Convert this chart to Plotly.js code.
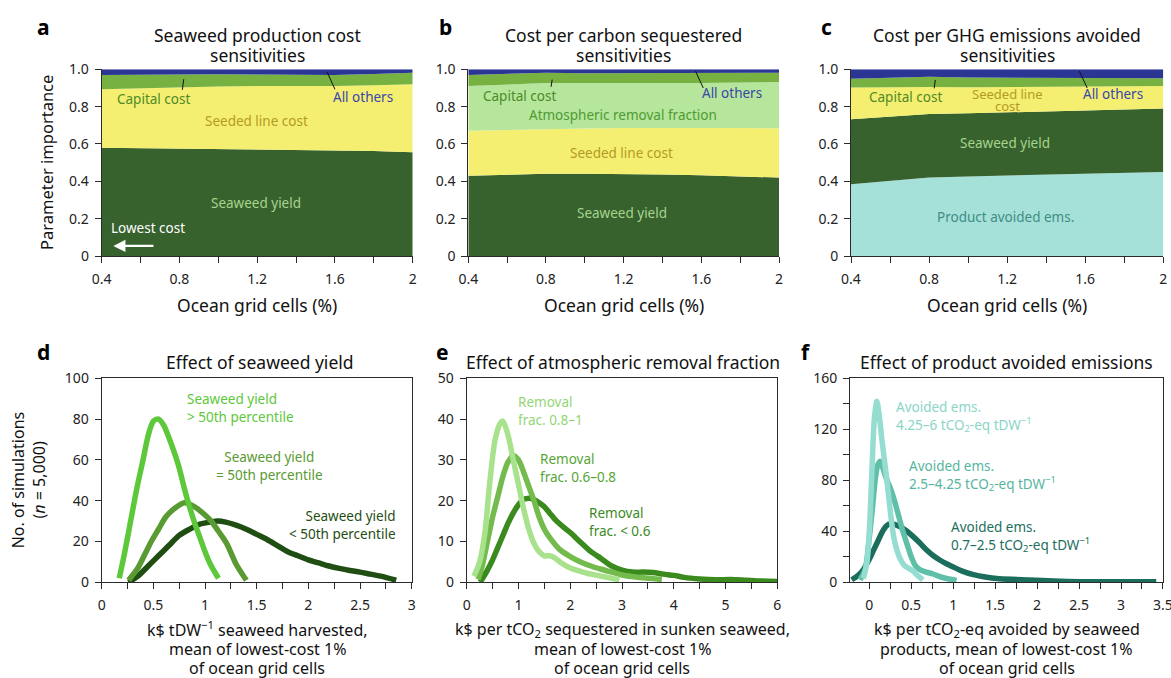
<!DOCTYPE html>
<html><head><meta charset="utf-8">
<script src="https://cdn.plot.ly/plotly-3.0.1.min.js"></script>
<style>body{margin:0;padding:0;background:#fff}#chart{width:1171px;height:678px}</style>
</head><body><div id="chart"></div>
<script>
// ---------- DATA ----------
const gridCells = [0.4, 0.6, 0.8, 1.0, 1.2, 1.4, 1.6, 1.8, 2.0];
// Panel a: seaweed production cost sensitivities
const aYield   = [0.580, 0.578, 0.576, 0.573, 0.571, 0.569, 0.567, 0.563, 0.556];
const aSeeded  = [0.313, 0.321, 0.329, 0.335, 0.339, 0.341, 0.343, 0.352, 0.364];
const aCapital = [0.076, 0.073, 0.070, 0.066, 0.062, 0.060, 0.060, 0.060, 0.062];
const aOthers  = [0.031, 0.028, 0.025, 0.026, 0.028, 0.030, 0.030, 0.025, 0.018];
// Panel b: cost per carbon sequestered sensitivities
const bYield   = [0.430, 0.436, 0.440, 0.441, 0.440, 0.437, 0.432, 0.426, 0.420];
const bSeeded  = [0.241, 0.240, 0.240, 0.242, 0.245, 0.249, 0.253, 0.259, 0.264];
const bAtmos   = [0.239, 0.244, 0.247, 0.244, 0.240, 0.240, 0.242, 0.245, 0.248];
const bCapital = [0.060, 0.058, 0.055, 0.052, 0.055, 0.054, 0.053, 0.052, 0.050];
const bOthers  = [0.030, 0.022, 0.018, 0.021, 0.020, 0.020, 0.020, 0.018, 0.018];
// Panel c: cost per GHG emissions avoided sensitivities
const cProduct = [0.384, 0.402, 0.420, 0.426, 0.430, 0.435, 0.440, 0.445, 0.450];
const cYield   = [0.348, 0.344, 0.340, 0.338, 0.340, 0.340, 0.340, 0.342, 0.340];
const cSeeded  = [0.171, 0.159, 0.145, 0.140, 0.135, 0.130, 0.126, 0.122, 0.120];
const cCapital = [0.047, 0.052, 0.055, 0.052, 0.050, 0.047, 0.046, 0.043, 0.042];
const cOthers  = [0.050, 0.043, 0.040, 0.044, 0.045, 0.048, 0.048, 0.048, 0.048];

// Panel d: effect of seaweed yield
const dHighX = [0.17,0.22,0.28,0.34,0.40,0.45,0.50,0.55,0.60,0.65,0.70,0.75,0.80,0.85,0.90,0.95,1.00,1.05,1.13];
const dHighY = [2,14,30,46,60,72,79,80,77,71,64,56,46,37,29,22,15,9,2];
const dMidX  = [0.26,0.35,0.42,0.48,0.55,0.62,0.70,0.80,0.90,1.00,1.06,1.13,1.21,1.30,1.40];
const dMidY  = [1,7,14,20,26,32,36,39,37,33,30,25,19,9,1];
const dLowX  = [0.26,0.35,0.45,0.55,0.65,0.75,0.85,0.95,1.05,1.12,1.2,1.3,1.4,1.5,1.6,1.7,1.8,1.9,2.0,2.1,2.2,2.3,2.4,2.5,2.6,2.7,2.85];
const dLowY  = [0,3,8,13,18,23,26,28.5,29.5,30,29.5,28,26,23.5,21,18,15,13,11,9.5,8,6.8,5.8,5,4,3,1];

// Panel e: effect of atmospheric removal fraction
const eHighX = [0.14,0.25,0.35,0.45,0.55,0.65,0.70,0.80,0.90,1.00,1.10,1.20,1.30,1.40,1.50,1.60,1.70,1.80,2.00,2.20,2.40,2.60,2.80,2.95];
const eHighY = [1.5,5,12,25,35,39,39.5,36,30,24,18,13,9.5,7.5,6.5,6.5,6,5,3.5,2.7,2,1.5,1,0.6];
const eMidX  = [0.22,0.3,0.4,0.5,0.6,0.7,0.8,0.9,1.0,1.1,1.2,1.3,1.4,1.5,1.6,1.8,2.0,2.2,2.4,2.6,2.8,3.0,3.2,3.4,3.6,3.77];
const eMidY  = [0.7,4,10,16,21,26,29.5,31,30,27,23.5,20,16,13,11,8,6.3,5,4,3.2,2.5,1.8,1.4,1.1,0.9,0.7];
const eLowX  = [0.26,0.4,0.5,0.6,0.7,0.8,0.9,1.0,1.1,1.2,1.3,1.4,1.5,1.6,1.7,1.8,1.9,2.0,2.1,2.2,2.4,2.6,2.8,3.0,3.2,3.4,3.6,3.8,4.0,4.2,4.5,4.8,5.1,5.4,5.7,6.0];
const eLowY  = [0,3,5.5,8.5,11.5,14.5,17,19,20.3,20.6,20.3,19.5,18.5,17,15.5,14.3,13.2,12.2,11,9.8,7.5,5.8,4,3,2.5,2.5,2.4,2,1.7,1.2,0.8,0.6,0.7,0.5,0.3,0.2];

// Panel f: effect of product avoided emissions
const fHighX = [-0.07,-0.03,0.0,0.03,0.06,0.09,0.12,0.15,0.18,0.21,0.25,0.29,0.33,0.37,0.42,0.47,0.52,0.58,0.64];
const fHighY = [3,15,40,85,128,142,130,112,96,80,56,36,25,18,13,11,9,5,2];
const fMidX  = [-0.11,-0.05,0.0,0.04,0.07,0.1,0.13,0.16,0.2,0.25,0.3,0.35,0.4,0.45,0.5,0.55,0.6,0.68,0.76,0.84,0.92,1.04];
const fMidY  = [2,10,35,60,80,92,95,90,82,74,64,52,40,30,20,13,10,8,6.5,4.4,3,1.5];
const fLowX  = [-0.21,-0.14,-0.07,0.0,0.05,0.1,0.15,0.2,0.25,0.3,0.37,0.45,0.52,0.6,0.68,0.76,0.84,0.92,1.0,1.1,1.24,1.4,1.52,1.7,1.91,2.2,2.51,2.8,3.1,3.42];
const fLowY  = [2,5,10,18,25,32,39,44,46,45.5,43.5,40,36,31,25.5,21,17.5,14.5,12,9,6,4,3,2.3,1.8,1,0.5,0.5,0.5,0.5];

// ---------- STYLE ----------
const W = 1171, H = 678;
const FONT = '"Noto Sans", "DejaVu Sans", sans-serif';
const C = {
  yield:'#37622e', seeded:'#f4ef70', capital:'#77b142', others:'#2b3594',
  atmos:'#b5e69b', product:'#a6e1d9'
};
const px = x => x / W;
const py = y => 1 - y / H;

function area(x, y, color, xa, ya){
  return {x:x, y:y, type:'scatter', mode:'lines', stackgroup:'s'+xa, fill:'tonexty',
    fillcolor:color, line:{width:0, color:color}, xaxis:xa, yaxis:ya, hoverinfo:'skip', showlegend:false};
}
function curve(x, y, color, xa, ya){
  return {x:x, y:y, type:'scatter', mode:'lines', line:{color:color, width:5.5, shape:'spline', smoothing:0.8},
    xaxis:xa, yaxis:ya, hoverinfo:'skip', showlegend:false};
}

const traces = [
  area(gridCells, aYield, C.yield, 'x', 'y'),
  area(gridCells, aSeeded, C.seeded, 'x', 'y'),
  area(gridCells, aCapital, C.capital, 'x', 'y'),
  area(gridCells, aOthers, C.others, 'x', 'y'),
  area(gridCells, bYield, C.yield, 'x2', 'y2'),
  area(gridCells, bSeeded, C.seeded, 'x2', 'y2'),
  area(gridCells, bAtmos, C.atmos, 'x2', 'y2'),
  area(gridCells, bCapital, C.capital, 'x2', 'y2'),
  area(gridCells, bOthers, C.others, 'x2', 'y2'),
  area(gridCells, cProduct, C.product, 'x3', 'y3'),
  area(gridCells, cYield, C.yield, 'x3', 'y3'),
  area(gridCells, cSeeded, C.seeded, 'x3', 'y3'),
  area(gridCells, cCapital, C.capital, 'x3', 'y3'),
  area(gridCells, cOthers, C.others, 'x3', 'y3'),
  curve(dLowX, dLowY, '#1f4d12', 'x4', 'y4'),
  curve(dMidX, dMidY, '#5a9a32', 'x4', 'y4'),
  curve(dHighX, dHighY, '#5cc83a', 'x4', 'y4'),
  curve(eLowX, eLowY, '#3a8a1e', 'x5', 'y5'),
  curve(eMidX, eMidY, '#72bb4c', 'x5', 'y5'),
  curve(eHighX, eHighY, '#a8e28c', 'x5', 'y5'),
  curve(fLowX, fLowY, '#1b6e5c', 'x6', 'y6'),
  curve(fMidX, fMidY, '#5fbfa8', 'x6', 'y6'),
  curve(fHighX, fHighY, '#94ddd0', 'x6', 'y6')
];

const AX = '#2a2a2a';
const tickFont = {family:FONT, size:14, color:'#222'};
function xTop(dom, anchor){
  return {domain:dom, anchor:anchor, range:[0.4,2], tickvals:[0.4,0.6,0.8,1.0,1.2,1.4,1.6,1.8,2.0],
    ticktext:['0.4','','0.8','','1.2','','1.6','','2'], ticks:'outside', ticklen:6, tickcolor:AX,
    showline:true, linecolor:AX, linewidth:1, showgrid:false, zeroline:false, tickfont:tickFont, ticklabelstandoff:4, fixedrange:true};
}
function yTop(dom, anchor){
  return {domain:dom, anchor:anchor, range:[0,1], tickvals:[0,0.2,0.4,0.6,0.8,1.0],
    ticktext:['0','0.2','0.4','0.6','0.8','1.0'], ticks:'outside', ticklen:6, tickcolor:AX,
    showline:true, linecolor:AX, linewidth:1, showgrid:false, zeroline:false, tickfont:tickFont, ticklabelstandoff:3, fixedrange:true};
}
function xBot(dom, anchor, range, dtick, minor){
  return {domain:dom, anchor:anchor, range:range, dtick:dtick, tick0:0, ticks:'outside', ticklen:6, tickcolor:AX,
    minor:{dtick:minor, tick0:0, ticks:'outside', ticklen:6, tickcolor:AX, showgrid:false},
    showline:true, mirror:true, linecolor:AX, linewidth:1, showgrid:false, zeroline:false, tickfont:tickFont,
    ticklabelstandoff:4, ticklabeloverflow:'allow', fixedrange:true};
}
function yBot(dom, anchor, range, dtick, minor){
  return {domain:dom, anchor:anchor, range:range, dtick:dtick, tick0:0, ticks:'outside', ticklen:6, tickcolor:AX,
    minor:{dtick:minor, tick0:0, ticks:'outside', ticklen:6, tickcolor:AX, showgrid:false},
    showline:true, mirror:true, linecolor:AX, linewidth:1, showgrid:false, zeroline:false, tickfont:tickFont, ticklabelstandoff:3, fixedrange:true};
}

const topY = [py(256), py(69.3)];
const botY = [py(582.3), py(378.3)];
const domA = [px(101.7), px(412.7)], domB = [px(468.3), px(779)], domC = [px(851), px(1163.3)];
const domD = [px(101.7), px(411.7)], domE = [px(466.7), px(777.3)], domF = [px(850), px(1163)];

const annotations = [];
function paperText(text, x, y, size, opts){
  annotations.push(Object.assign({text:text, x:px(x), y:py(y), xref:'paper', yref:'paper', showarrow:false,
    xanchor:'center', yanchor:'middle', font:{family:FONT, size:size, color:'#111'}}, opts||{}));
}
function dataText(text, x, y, xa, ya, color, align, size){
  annotations.push({text:text, x:x, y:y, xref:xa, yref:ya, showarrow:false,
    xanchor:align||'center', yanchor:'middle', align:align||'center',
    font:{family:FONT, size:size||13.5, color:color}});
}

// panel letters
[['a',43,27],['b',445,27],['c',826,27],['d',43,352],['e',442,352],['f',806,352]].forEach(l=>{
  paperText('<b>'+l[0]+'</b>', l[1], l[2], 21, {font:{family:FONT, size:21, color:'#000'}});
});
// titles
const TS = 17.5;
paperText('Seaweed production cost', 257, 35, TS);
paperText('sensitivities', 257, 55, TS);
paperText('Cost per carbon sequestered', 623, 35, TS);
paperText('sensitivities', 623, 55, TS);
paperText('Cost per GHG emissions avoided', 1007, 35, TS);
paperText('sensitivities', 1007, 55, TS);
paperText('Effect of seaweed yield', 260, 362, TS);
paperText('Effect of atmospheric removal fraction', 623, 362, TS);
paperText('Effect of product avoided emissions', 1006.5, 362, TS);
// axis titles
paperText('Parameter importance', 46.5, 162.5, 16.5, {textangle:-90});
paperText('Ocean grid cells (%)', 257, 305, 17.5);
paperText('Ocean grid cells (%)', 623.5, 305, 17.5);
paperText('Ocean grid cells (%)', 1007, 305, 17.5);
paperText('No. of simulations', 18.3, 480, 16, {textangle:-90});
paperText('(<i>n</i> = 5,000)', 38.5, 480, 16, {textangle:-90});
const BL = [629, 649, 668];
paperText('k$ tDW<sup>−1</sup> seaweed harvested,', 257, BL[0], 16);
paperText('mean of lowest-cost 1%', 257, BL[1], 16);
paperText('of ocean grid cells', 257, BL[2], 16);
paperText('k$ per tCO<sub>2</sub> sequestered in sunken seaweed,', 622, BL[0], 16);
paperText('mean of lowest-cost 1%', 622, BL[1], 16);
paperText('of ocean grid cells', 622, BL[2], 16);
paperText('k$ per tCO<sub>2</sub>-eq avoided by seaweed', 1006.5, BL[0], 16);
paperText('products, mean of lowest-cost 1%', 1006.5, BL[1], 16);
paperText('of ocean grid cells', 1006.5, BL[2], 16);

// panel a labels
dataText('Capital cost', 0.664, 0.839, 'x', 'y', '#4e8a28');
dataText('All others', 1.746, 0.85, 'x', 'y', '#3a47aa');
dataText('Seeded line cost', 1.197, 0.721, 'x', 'y', '#b49a26');
dataText('Seaweed yield', 1.194, 0.282, 'x', 'y', '#a6d48c');
dataText('Lowest cost', 0.64, 0.152, 'x', 'y', '#ffffff');
annotations.push({x:0.46, y:0.054, ax:0.674, ay:0.054, xref:'x', yref:'y', axref:'x', ayref:'y',
  showarrow:true, arrowhead:2, arrowsize:1.1, arrowwidth:2.2, arrowcolor:'#ffffff', text:''});
// panel b labels
dataText('Capital cost', 0.663, 0.859, 'x2', 'y2', '#4e8a28');
dataText('All others', 1.76, 0.871, 'x2', 'y2', '#3a47aa');
dataText('Atmospheric removal fraction', 1.198, 0.754, 'x2', 'y2', '#4f9a35');
dataText('Seeded line cost', 1.19, 0.553, 'x2', 'y2', '#b49a26');
dataText('Seaweed yield', 1.19, 0.232, 'x2', 'y2', '#a6d48c');
// panel c labels
dataText('Capital cost', 0.68, 0.853, 'x3', 'y3', '#4e8a28');
dataText('Seeded line', 1.2, 0.868, 'x3', 'y3', '#b49a26', 'center', 13);
dataText('cost', 1.2, 0.806, 'x3', 'y3', '#b49a26', 'center', 13);
dataText('All others', 1.74, 0.866, 'x3', 'y3', '#3a47aa');
dataText('Seaweed yield', 1.19, 0.604, 'x3', 'y3', '#a6d48c');
dataText('Product avoided ems.', 1.19, 0.21, 'x3', 'y3', '#3f8d85');
// panel d labels
dataText('Seaweed yield<br>> 50th percentile', 0.81, 85.3, 'x4', 'y4', '#5cc83a', 'left');
dataText('Seaweed yield<br>= 50th percentile', 1.62, 56.9, 'x4', 'y4', '#5a9a32', 'center');
dataText('Seaweed yield<br>< 50th percentile', 2.87, 27.9, 'x4', 'y4', '#1f4d12', 'right');
// panel e labels
dataText('Removal<br>frac. 0.8–1', 0.946, 41.9, 'x5', 'y5', '#93d676', 'left');
dataText('Removal<br>frac. 0.6–0.8', 1.38, 28.1, 'x5', 'y5', '#56a636', 'left');
dataText('Removal<br>frac. < 0.6', 2.32, 14.7, 'x5', 'y5', '#3a8a1e', 'left');
// panel f labels
dataText('Avoided ems.<br>4.25–6 tCO<sub>2</sub>-eq tDW<sup>−1</sup>', 0.294, 130.4, 'x6', 'y6', '#8ad5c6', 'left');
dataText('Avoided ems.<br>2.5–4.25 tCO<sub>2</sub>-eq tDW<sup>−1</sup>', 0.445, 83.6, 'x6', 'y6', '#55b5a0', 'left');
dataText('Avoided ems.<br>0.7–2.5 tCO<sub>2</sub>-eq tDW<sup>−1</sup>', 0.95, 35.9, 'x6', 'y6', '#1d6e5d', 'left');

// leader lines
function lead(x0,y0,x1,y1,xa,ya){ return {type:'line', x0:x0, y0:y0, x1:x1, y1:y1, xref:xa, yref:ya, line:{color:'#111', width:1}}; }
const shapes = [
  lead(0.822,0.947,0.815,0.89,'x','y'), lead(1.56,0.985,1.60,0.893,'x','y'),
  lead(0.832,0.945,0.826,0.906,'x2','y2'), lead(1.57,0.99,1.61,0.90,'x2','y2'),
  lead(0.832,0.943,0.826,0.898,'x3','y3'), lead(1.57,0.99,1.61,0.90,'x3','y3')
];

const layout = {
  width:W, height:H, margin:{l:0,r:0,t:0,b:0}, paper_bgcolor:'#fff', plot_bgcolor:'rgba(0,0,0,0)',
  showlegend:false, font:{family:FONT, color:'#111'},
  xaxis:xTop(domA,'y'), yaxis:yTop(topY,'x'),
  xaxis2:xTop(domB,'y2'), yaxis2:yTop(topY,'x2'),
  xaxis3:xTop(domC,'y3'), yaxis3:yTop(topY,'x3'),
  xaxis4:xBot(domD,'y4',[0,3.0001],0.5,0.25), yaxis4:yBot(botY,'x4',[0,100.0001],20,20),
  xaxis5:xBot(domE,'y5',[0,6.0001],1,0.5), yaxis5:yBot(botY,'x5',[0,50.0001],10,10),
  xaxis6:xBot(domF,'y6',[-0.23,3.5005],0.5,0.25), yaxis6:yBot(botY,'x6',[0,160.001],40,20),
  annotations:annotations, shapes:shapes
};
Plotly.newPlot('chart', traces, layout, {staticPlot:true, displayModeBar:false});
</script></body></html>
